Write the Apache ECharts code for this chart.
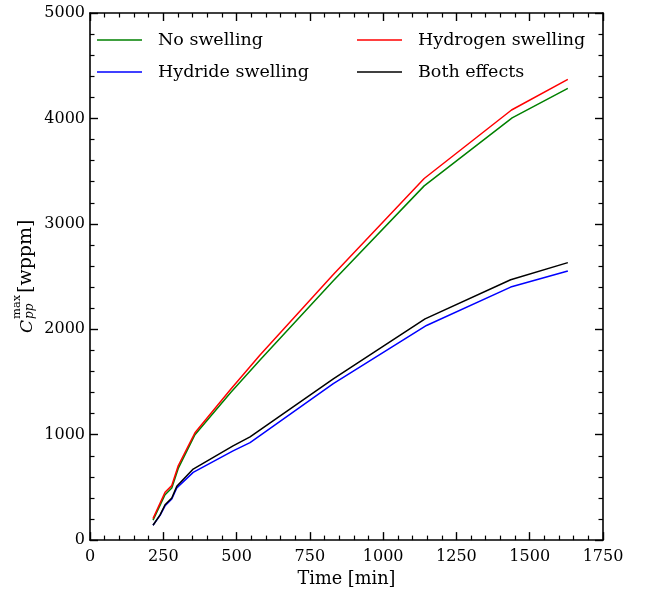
<!DOCTYPE html>
<html>
<head>
<meta charset="utf-8">
<script src="https://cdn.jsdelivr.net/npm/echarts@6/dist/echarts.min.js"></script>
<style>html,body{margin:0;padding:0;background:#fff}#c{width:654px;height:593px}</style>
</head>
<body>
<div id="c"></div>
<script>
// ---- data ----
const xTicks = [0, 250, 500, 750, 1000, 1250, 1500, 1750];
const yTicks = [0, 1000, 2000, 3000, 4000, 5000];
const seriesNames = ['No swelling', 'Hydrogen swelling', 'Hydride swelling', 'Both effects'];
const tNo = [215, 256, 279, 301, 358, 480, 580, 830, 1140, 1440, 1630];
const cNo = [190, 430, 495, 680, 1000, 1400, 1708, 2460, 3360, 4005, 4285];
const tHydrogen = [215, 256, 279, 301, 358, 480, 580, 830, 1140, 1438, 1630];
const cHydrogen = [204, 454, 517, 705, 1018, 1430, 1755, 2520, 3430, 4080, 4370];
const tHydride = [215, 239, 256, 279, 296, 352, 488, 546, 830, 1148, 1435, 1630];
const cHydride = [141, 235, 325, 390, 495, 642, 846, 924, 1485, 2036, 2400, 2553];
const tBoth = [215, 239, 256, 279, 296, 352, 488, 546, 830, 1143, 1435, 1630];
const cBoth = [141, 240, 335, 400, 510, 674, 893, 980, 1530, 2099, 2470, 2632];
const colors = ['#008000', '#ff0000', '#0000ff', '#000000'];

const pairs = (t, c) => t.map((v, i) => [v, c[i]]);
const seriesData = [pairs(tNo, cNo), pairs(tHydrogen, cHydrogen), pairs(tHydride, cHydride), pairs(tBoth, cBoth)];

const FONT = 'DejaVu Serif';
const chart = echarts.init(document.getElementById('c'), null, {renderer: 'canvas'});

function xAxisDef(pos, showLabels) {
  return {
    type: 'value', position: pos, min: xTicks[0], max: xTicks[xTicks.length - 1], interval: 250,
    axisLine: {show: true, onZero: false, lineStyle: {color: '#000', width: 1.6}},
    axisTick: {show: true, inside: true, length: 8, lineStyle: {color: '#000', width: 1.4}},
    minorTick: {show: true, splitNumber: 5, length: 4.5, lineStyle: {color: '#000', width: 1.2}},
    splitLine: {show: false},
    axisLabel: {show: showLabels, color: '#000', fontFamily: FONT, fontSize: 16, margin: 9,
      formatter: v => String(v)},
    name: showLabels ? 'Time [min]' : '', nameLocation: 'middle', nameGap: 27,
    nameTextStyle: {color: '#000', fontFamily: FONT, fontSize: 17.7}
  };
}
function yAxisDef(pos, showLabels) {
  return {
    type: 'value', position: pos, min: yTicks[0], max: yTicks[yTicks.length - 1], interval: 1000,
    axisLine: {show: true, onZero: false, lineStyle: {color: '#000', width: 1.6}},
    axisTick: {show: true, inside: true, length: 8, lineStyle: {color: '#000', width: 1.4}},
    minorTick: {show: true, splitNumber: 5, length: 4.5, lineStyle: {color: '#000', width: 1.2}},
    splitLine: {show: false},
    axisLabel: {show: showLabels, color: '#000', fontFamily: FONT, fontSize: 16, margin: 5,
      padding: [3, 0, 0, 0], formatter: v => String(v)}
  };
}

const legendCommon = {
  orient: 'vertical', icon: 'rect', itemWidth: 45, itemHeight: 1.5, itemGap: 12,
  textStyle: {color: '#000', fontFamily: FONT, fontSize: 17.5, padding: [0, 0, 0, 11], lineHeight: 20},
  selectedMode: false
};

const option = {
  animation: false,
  backgroundColor: '#fff',
  grid: {left: 90, right: 51, top: 13, bottom: 48, containLabel: false},
  xAxis: [xAxisDef('bottom', true), xAxisDef('top', false)],
  yAxis: [yAxisDef('left', true), yAxisDef('right', false)],
  legend: [
    Object.assign({}, legendCommon, {left: 92, top: 25, data: [seriesNames[0], seriesNames[2]]}),
    Object.assign({}, legendCommon, {left: 352, top: 25, data: [seriesNames[1], seriesNames[3]]})
  ],
  series: seriesNames.map((n, i) => ({
    name: n, type: 'line', data: seriesData[i], symbol: 'none', smooth: false,
    xAxisIndex: 0, yAxisIndex: 0,
    lineStyle: {color: colors[i], width: 1.5}, itemStyle: {color: colors[i]}
  })),
  graphic: [{
    type: 'group', x: 32, y: 333, rotation: Math.PI / 2,
    children: [
      {type: 'text', x: 0, y: 4, style: {text: 'C', font: 'italic 17px "DejaVu Serif"', fill: '#000', verticalAlign: 'bottom'}},
      {type: 'text', x: 14, y: -9, style: {text: 'max', font: '11.5px "DejaVu Serif"', fill: '#000', verticalAlign: 'bottom'}},
      {type: 'text', x: 14, y: 4, style: {text: 'pp', font: 'italic 12px "DejaVu Serif"', fill: '#000', verticalAlign: 'bottom'}},
      {type: 'text', x: 40, y: 4, style: {text: '[wppm]', font: '19px "DejaVu Serif"', fill: '#000', verticalAlign: 'bottom'}}
    ]
  }]
};
chart.setOption(option);
</script>
</body>
</html>
